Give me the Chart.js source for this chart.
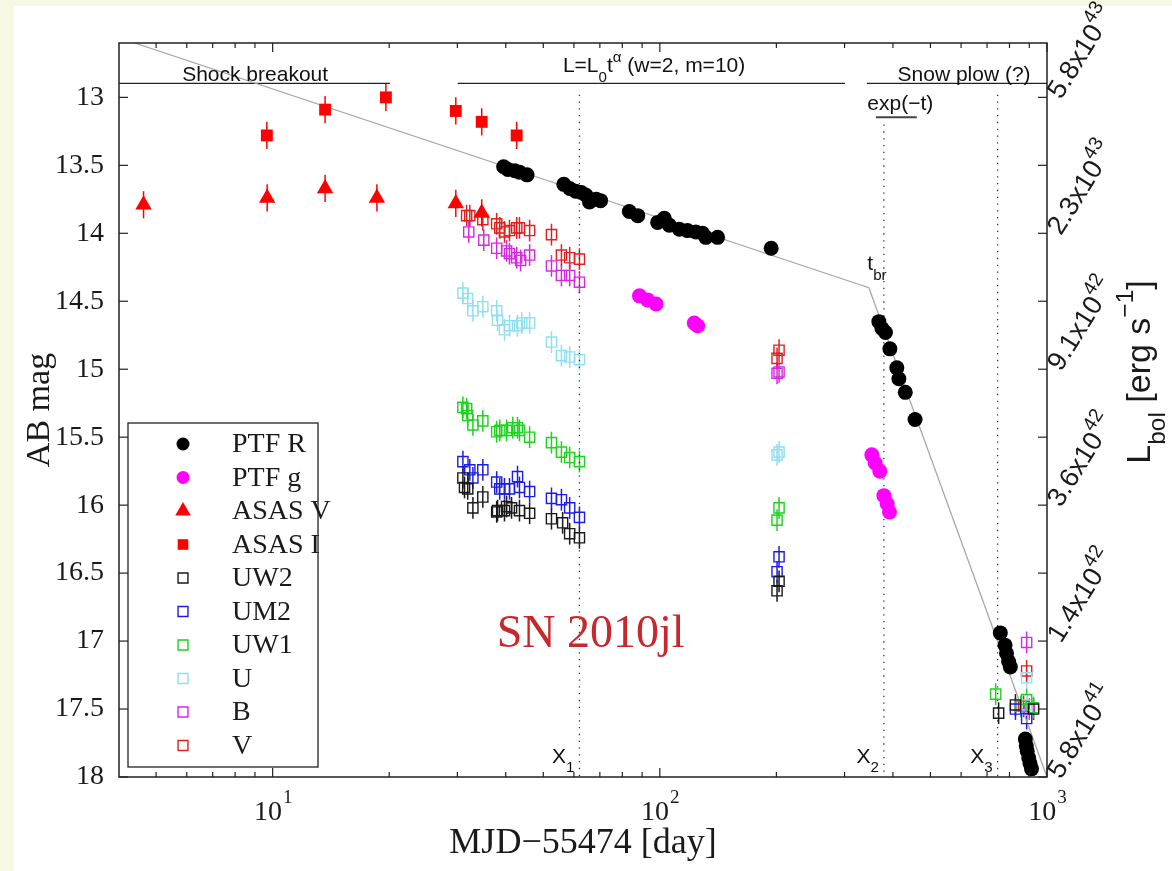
<!DOCTYPE html>
<html>
<head>
<meta charset="utf-8">
<title>SN 2010jl light curve</title>
<script src="https://cdn.jsdelivr.net/npm/chart.js@4.4.1/dist/chart.umd.min.js"></script>
<style>
  html, body { margin: 0; padding: 0; background: #f7f8e4; }
  canvas { display: block; }
</style>
</head>
<body>
<canvas id="lc" width="1172" height="871"></canvas>
<script>
// values: day = MJD-55474, mag = AB mag
const ptfRDay = [39.5, 40.5, 42.2, 43.4, 45.4, 56.5, 58.5, 60.6, 62.7, 64.5, 65.8, 68.5, 70.3, 83.4, 87.7,
  98.7, 102.7, 105.8, 112.3, 117.9, 123.9, 128.9, 131.5, 141.0, 193.9,
  367.9, 374.8, 382.6, 392.8, 409.4, 414.4, 430.5, 456.3,
  757.5, 779, 786, 795.8, 804, 879, 884, 889, 897, 904, 912];
const ptfRMag = [13.51, 13.53, 13.54, 13.55, 13.57, 13.64, 13.67, 13.69, 13.70, 13.72, 13.77, 13.75, 13.76, 13.84, 13.87,
  13.92, 13.89, 13.94, 13.97, 13.98, 13.99, 14.00, 14.03, 14.03, 14.11,
  14.65, 14.70, 14.73, 14.85, 14.99, 15.07, 15.17, 15.37,
  16.94, 17.03, 17.09, 17.15, 17.19, 17.72, 17.77, 17.81, 17.86, 17.90, 17.94];

const ptfGDay = [88.6, 93.0, 97.8, 122.7, 125.2, 352.8, 360, 370, 379, 386.6, 392];
const ptfGMag = [14.46, 14.49, 14.52, 14.66, 14.68, 15.63, 15.69, 15.75, 15.93, 15.99, 16.05];

const asasVDay = [4.64, 9.68, 13.66, 18.59, 29.72, 34.67];
const asasVMag = [13.79, 13.74, 13.67, 13.74, 13.78, 13.85];
const asasIDay = [9.66, 13.66, 19.61, 29.72, 34.67, 42.68];
const asasIMag = [13.28, 13.09, 13.00, 13.10, 13.18, 13.28];

const uw2Day = [31.0, 31.3, 31.9, 32.9, 34.9, 37.9, 38.1, 39.7, 40.2, 41.4, 43.4, 46.1, 52.5, 56.1, 58.5, 62.0, 200.8, 203.2, 750, 829, 923];
const uw2Mag = [15.80, 15.87, 15.88, 16.02, 15.94, 16.05, 16.04, 16.04, 16.01, 16.02, 16.04, 16.06, 16.10, 16.13, 16.21, 16.24, 16.63, 16.56, 17.53, 17.47, 17.50];
const um2Day = [31.0, 32.3, 32.9, 34.9, 37.9, 38.6, 39.7, 40.9, 42.9, 43.4, 46.1, 52.5, 55.7, 58.5, 62.0, 200.8, 203.2, 829, 886];
const um2Mag = [15.68, 15.74, 15.80, 15.74, 15.83, 15.88, 15.88, 15.88, 15.79, 15.87, 15.90, 15.95, 15.96, 16.02, 16.09, 16.49, 16.38, 17.50, 17.57];
const uw1Day = [31.0, 31.7, 31.9, 32.9, 34.9, 37.9, 38.6, 40.2, 41.7, 42.9, 43.4, 46.1, 52.5, 55.7, 58.5, 62.0, 200.8, 203.2, 737, 856, 886, 923];
const uw1Mag = [15.28, 15.29, 15.34, 15.41, 15.38, 15.46, 15.45, 15.45, 15.43, 15.43, 15.45, 15.50, 15.54, 15.61, 15.65, 15.68, 16.11, 16.02, 17.39, 17.48, 17.43, 17.49];
const uDay = [31.0, 31.9, 32.9, 34.9, 37.9, 38.1, 39.7, 40.9, 42.9, 44.0, 46.1, 52.5, 55.7, 58.5, 62.0, 200.8, 203.2, 886, 886];
const uMag = [14.44, 14.48, 14.57, 14.54, 14.57, 14.64, 14.71, 14.68, 14.68, 14.66, 14.66, 14.80, 14.90, 14.91, 14.93, 15.63, 15.61, 17.27, 17.47];
const bDay = [32.1, 35.1, 37.9, 40.2, 40.9, 42.7, 43.7, 46.1, 52.5, 55.7, 58.5, 62.0, 200.8, 203.2, 886, 900];
const bMag = [13.99, 14.05, 14.11, 14.13, 14.15, 14.18, 14.20, 14.16, 14.24, 14.31, 14.31, 14.36, 15.03, 15.02, 17.01, 17.50];
const vDay = [31.7, 32.3, 34.9, 37.9, 38.6, 39.7, 40.9, 42.7, 43.4, 46.1, 52.5, 55.7, 58.5, 62.0, 200.8, 203.2, 870, 886];
const vMag = [13.87, 13.87, 13.90, 13.93, 13.96, 13.99, 13.98, 13.96, 13.96, 13.98, 14.01, 14.16, 14.18, 14.19, 14.92, 14.86, 17.48, 17.22];

const asasErr = 0.1;
const uvotErr = 0.08;

// broken power-law model (grey line)
const modelDay = [4.4, 346.7, 1000];
const modelMag = [12.6, 14.40, 18.0];

// x1, x2, x3 epochs
const breakDay = [62.0, 379, 745.5];
const breakTop = [12.98, 13.2, 12.98];

// axes
const xTicks = [5, 6, 7, 8, 9, 10, 20, 30, 40, 50, 60, 70, 80, 90, 100, 200, 300, 400, 500, 600, 700, 800, 900, 1000];
const xMajor = [10, 100, 1000];
const yTicks = [13, 13.5, 14, 14.5, 15, 15.5, 16, 16.5, 17, 17.5, 18];
const lumMag = [13, 14, 15, 16, 17, 18];
const lumMant = ['5.8', '2.3', '9.1', '3.6', '1.4', '5.8'];
const lumExp = ['43', '43', '42', '42', '42', '41'];

const SERIF = "'Liberation Serif', 'DejaVu Serif', serif";
const SANS = "'Liberation Sans', Arial, sans-serif";

const pts = (xs, ys) => xs.map((x, i) => ({ x: x, y: ys[i] }));

const series = [
  { label: 'PTF R', day: ptfRDay, mag: ptfRMag, shape: 'circle', color: '#000000', fill: true, r: 7.5, err: 0, lr: 6.5 },
  { label: 'PTF g', day: ptfGDay, mag: ptfGMag, shape: 'circle', color: '#ff00ff', fill: true, r: 7.5, err: 0, lr: 6.5 },
  { label: 'ASAS V', day: asasVDay, mag: asasVMag, shape: 'triangle', color: '#ff0000', fill: true, r: 9.5, err: asasErr, lr: 9 },
  { label: 'ASAS I', day: asasIDay, mag: asasIMag, shape: 'rect', color: '#ff0000', fill: true, r: 8.4, err: asasErr, lr: 7.5 },
  { label: 'UW2', day: uw2Day, mag: uw2Mag, shape: 'rect', color: '#1a1a1a', fill: false, r: 7.2, err: uvotErr, lr: 7 },
  { label: 'UM2', day: um2Day, mag: um2Mag, shape: 'rect', color: '#1e1ee0', fill: false, r: 7.2, err: uvotErr, lr: 7 },
  { label: 'UW1', day: uw1Day, mag: uw1Mag, shape: 'rect', color: '#1fd21f', fill: false, r: 7.2, err: uvotErr, lr: 7 },
  { label: 'U', day: uDay, mag: uMag, shape: 'rect', color: '#8fdff0', fill: false, r: 7.2, err: uvotErr, lr: 7 },
  { label: 'B', day: bDay, mag: bMag, shape: 'rect', color: '#d52bde', fill: false, r: 7.2, err: uvotErr, lr: 7 },
  { label: 'V', day: vDay, mag: vMag, shape: 'rect', color: '#dd2222', fill: false, r: 7.2, err: uvotErr, lr: 7 }
];

const datasets = series.map((s, i) => ({
  label: s.label,
  data: pts(s.day, s.mag),
  pointStyle: s.shape,
  pointRadius: s.r,
  pointBackgroundColor: s.fill ? s.color : 'rgba(0,0,0,0)',
  pointBorderColor: s.color,
  pointBorderWidth: s.fill ? 0 : 1.4,
  order: i < 2 ? 1 : 2
}));

datasets.push({
  label: 'model', data: pts(modelDay, modelMag), showLine: true, pointRadius: 0,
  borderColor: '#a8a8a8', borderWidth: 1.3, order: 5
});
breakDay.forEach((d, i) => datasets.push({
  label: 'x' + (i + 1), data: [{ x: d, y: breakTop[i] }, { x: d, y: 18 }], showLine: true, pointRadius: 0,
  borderColor: '#333', borderWidth: 1.3, borderDash: [1.3, 5.5], order: 6
}));
// phase bars along the top
const phaseBars = [[4.01, 20.08, 12.897], [30.07, 300.7, 12.897], [342.6, 1000, 12.897]];
phaseBars.forEach(b => datasets.push({
  label: 'phase', data: [{ x: b[0], y: b[2] }, { x: b[1], y: b[2] }], showLine: true, pointRadius: 0,
  borderColor: '#222', borderWidth: 1.4, order: 6
}));
datasets.push({
  label: 'exp', data: [{ x: 361.4, y: 13.147 }, { x: 461, y: 13.147 }], showLine: true, pointRadius: 0,
  borderColor: '#444', borderWidth: 2, order: 6
});

const notes = [
  { day: 9.01, mag: 12.882, parts: [['Shock breakout', 0]], align: 'center' },
  { day: 56.2, mag: 12.816, parts: [['L=L', 0], ['0', 1], ['t', 0], ['\u03b1', 2], [' (w=2, m=10)', 0]], align: 'left' },
  { day: 907, mag: 12.882, parts: [['Snow plow (?)', 0]], align: 'right' },
  { day: 343.5, mag: 13.096, parts: [['exp(\u2212t)', 0]], align: 'left' },
  { day: 343.5, mag: 14.272, parts: [['t', 0], ['br', 1]], align: 'left' },
  { day: breakDay[0], mag: 17.897, parts: [['X', 0], ['1', 1]], align: 'right', dx: -5 },
  { day: breakDay[1], mag: 17.897, parts: [['X', 0], ['2', 1]], align: 'right', dx: -5 },
  { day: breakDay[2], mag: 17.897, parts: [['X', 0], ['3', 1]], align: 'right', dx: -5 }
];

function richText(ctx, x, y, parts, size, family, align) {
  const small = size * 0.72;
  const widths = parts.map(p => { ctx.font = (p[1] ? small : size) + 'px ' + family; return ctx.measureText(p[0]).width; });
  const w = widths.reduce((a, b) => a + b, 0);
  let cx = align === 'right' ? x - w : align === 'center' ? x - w / 2 : x;
  ctx.textAlign = 'left';
  ctx.textBaseline = 'alphabetic';
  parts.forEach((p, i) => {
    ctx.font = (p[1] ? small : size) + 'px ' + family;
    const dy = p[1] === 1 ? size * 0.45 : p[1] === 2 ? -size * 0.5 : 0;
    ctx.fillText(p[0], cx, y + dy);
    cx += widths[i];
  });
}

function marker(ctx, shape, x, y, r, color, fill) {
  ctx.beginPath();
  if (shape === 'circle') {
    ctx.arc(x, y, r, 0, Math.PI * 2);
  } else if (shape === 'triangle') {
    ctx.moveTo(x, y - r);
    ctx.lineTo(x + r * Math.sin(2 * Math.PI / 3), y + r / 2);
    ctx.lineTo(x - r * Math.sin(2 * Math.PI / 3), y + r / 2);
    ctx.closePath();
  } else {
    const h = r * Math.SQRT1_2;
    ctx.rect(x - h, y - h, 2 * h, 2 * h);
  }
  if (fill) { ctx.fillStyle = color; ctx.fill(); }
  else { ctx.strokeStyle = color; ctx.lineWidth = 1.4; ctx.stroke(); }
}

const decor = {
  id: 'decor',
  beforeDraw(chart) {
    const ctx = chart.ctx;
    ctx.save();
    ctx.fillStyle = '#f7f8e4';
    ctx.fillRect(0, 0, chart.width, chart.height);
    ctx.fillStyle = '#ffffff';
    ctx.fillRect(14, 6, chart.width - 14, chart.height - 6);
    ctx.restore();
  },
  beforeDatasetsDraw(chart) {
    const ctx = chart.ctx, xs = chart.scales.x, ys = chart.scales.y, a = chart.chartArea;
    ctx.save();
    ctx.beginPath();
    ctx.rect(a.left, a.top, a.right - a.left, a.bottom - a.top);
    ctx.clip();
    ctx.lineWidth = 1.5;
    series.forEach(s => {
      if (!s.err) return;
      ctx.strokeStyle = s.color;
      s.day.forEach((d, i) => {
        const X = xs.getPixelForValue(d);
        ctx.beginPath();
        ctx.moveTo(X, ys.getPixelForValue(s.mag[i] - s.err));
        ctx.lineTo(X, ys.getPixelForValue(s.mag[i] + s.err));
        ctx.stroke();
      });
    });
    ctx.restore();
  },
  afterDatasetsDraw(chart) {
    const ctx = chart.ctx, xs = chart.scales.x, ys = chart.scales.y, y2 = chart.scales.y2, a = chart.chartArea;
    const seg = (x1, y1, x2, y3) => { ctx.beginPath(); ctx.moveTo(x1, y1); ctx.lineTo(x2, y3); ctx.stroke(); };
    ctx.save();
    // frame and inward ticks
    ctx.strokeStyle = '#222';
    ctx.lineWidth = 1.5;
    ctx.strokeRect(a.left, a.top, a.right - a.left, a.bottom - a.top);
    ctx.lineWidth = 1.2;
    xs.ticks.forEach(t => {
      const X = xs.getPixelForValue(t.value);
      const len = xMajor.includes(t.value) ? 9 : 5;
      seg(X, a.bottom, X, a.bottom - len);
      seg(X, a.top, X, a.top + len);
    });
    ys.ticks.forEach(t => { const Y = ys.getPixelForValue(t.value); seg(a.left, Y, a.left + 9, Y); });
    y2.ticks.forEach(t => { const Y = y2.getPixelForValue(t.value); seg(a.right, Y, a.right - 9, Y); });

    // x tick labels 10^n
    ctx.fillStyle = '#1a1a1a';
    xMajor.forEach(v => {
      const n = String(Math.round(Math.log10(v)));
      ctx.font = '28px ' + SERIF;
      const w1 = ctx.measureText('10').width;
      ctx.font = '19px ' + SERIF;
      const w2 = ctx.measureText(n).width;
      const x0 = xs.getPixelForValue(v) - (w1 + w2) / 2;
      ctx.textAlign = 'left';
      ctx.textBaseline = 'alphabetic';
      ctx.font = '28px ' + SERIF;
      ctx.fillText('10', x0, a.bottom + 43);
      ctx.font = '19px ' + SERIF;
      ctx.fillText(n, x0 + w1 + 1, a.bottom + 26);
    });

    // text annotations
    ctx.fillStyle = '#111';
    notes.forEach(nt => {
      richText(ctx, xs.getPixelForValue(nt.day) + (nt.dx || 0), ys.getPixelForValue(nt.mag), nt.parts, 21, SANS, nt.align);
    });
    ctx.fillStyle = '#c8282c';
    richText(ctx, xs.getPixelForValue(37.9), ys.getPixelForValue(17.044), [['SN 2010jl', 0]], 46, SERIF, 'left');

    // right axis: bolometric luminosity
    ctx.fillStyle = '#1a1a1a';
    lumMag.forEach((m, i) => {
      ctx.save();
      ctx.translate(a.right + 14, y2.getPixelForValue(m) + 3);
      ctx.rotate(-58 * Math.PI / 180);
      richText(ctx, 0, 0, [[lumMant[i] + 'x10', 0], [lumExp[i], 2]], 27, SANS, 'left');
      ctx.restore();
    });
    ctx.save();
    ctx.translate(1150, 372);
    ctx.rotate(-Math.PI / 2);
    richText(ctx, 0, 0, [['L', 0], ['bol', 1], [' [erg s', 0], ['\u22121', 2], [']', 0]], 34, SANS, 'center');
    ctx.restore();

    // legend
    const bx = a.left + 9, bh = 344, bw = 190, by = a.bottom - 10 - bh;
    ctx.fillStyle = '#ffffff';
    ctx.fillRect(bx, by, bw, bh);
    ctx.strokeStyle = '#222';
    ctx.lineWidth = 1.3;
    ctx.strokeRect(bx, by, bw, bh);
    series.forEach((s, i) => {
      const yy = by + 21 + i * 33.5;
      marker(ctx, s.shape, bx + 55, yy, s.lr, s.color, s.fill);
      ctx.fillStyle = '#1a1a1a';
      ctx.font = '28px ' + SERIF;
      ctx.textAlign = 'left';
      ctx.textBaseline = 'middle';
      ctx.fillText(s.label, bx + 104, yy + 1);
    });
    ctx.restore();
  }
};

new Chart(document.getElementById('lc'), {
  type: 'scatter',
  data: { datasets: datasets },
  options: {
    responsive: false,
    animation: false,
    events: [],
    layout: { padding: { top: 43, left: 0, right: 0, bottom: 0 } },
    plugins: { legend: { display: false }, tooltip: { enabled: false } },
    scales: {
      x: {
        type: 'logarithmic',
        min: 4.01,
        max: 1000,
        afterBuildTicks: s => { s.ticks = xTicks.map(v => ({ value: v })); },
        afterFit: s => { s.height = 94; },
        ticks: { display: false },
        grid: { display: false },
        border: { display: false },
        title: {
          display: true, text: 'MJD\u221255474 [day]', color: '#1a1a1a',
          font: { family: SERIF, size: 36 }, padding: { top: 0, bottom: 6 }
        }
      },
      y: {
        type: 'linear',
        reverse: true,
        min: 12.6,
        max: 18,
        afterBuildTicks: s => { s.ticks = yTicks.map(v => ({ value: v })); },
        afterFit: s => { s.width = 119; },
        ticks: {
          color: '#1a1a1a', padding: 7, font: { family: SERIF, size: 28 },
          callback: v => String(v)
        },
        grid: { display: false },
        border: { display: false },
        title: {
          display: true, text: 'AB mag', color: '#1a1a1a',
          font: { family: SERIF, size: 34 }, padding: { top: 20, bottom: 0 }
        }
      },
      y2: {
        type: 'linear',
        position: 'right',
        reverse: true,
        min: 12.6,
        max: 18,
        afterBuildTicks: s => { s.ticks = yTicks.map(v => ({ value: v })); },
        afterFit: s => { s.width = 125; },
        ticks: { display: false },
        grid: { display: false },
        border: { display: false }
      }
    }
  },
  plugins: [decor]
});
</script>
</body>
</html>
